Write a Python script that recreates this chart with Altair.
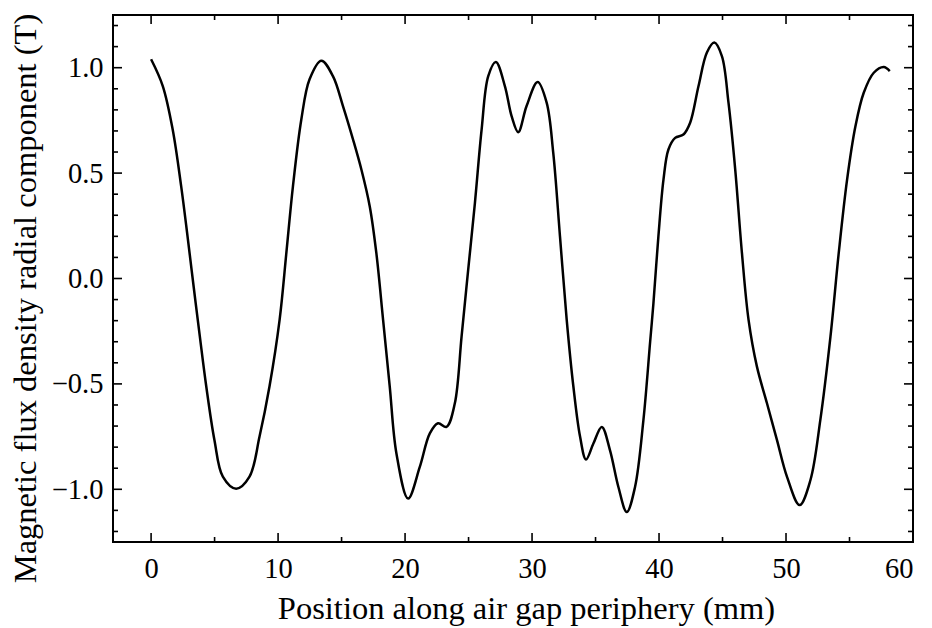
import altair as alt
import pandas as pd

# Curve
pos = [0.0, 0.92, 1.70, 2.37, 2.87, 3.35, 3.84, 4.34, 4.99, 5.65, 6.70, 7.75, 8.54, 9.33,
       10.12, 10.65, 11.17, 11.83, 12.48, 13.41, 14.32, 15.11, 15.90, 16.56, 17.22, 17.74,
       18.27, 18.79, 19.32, 20.24, 21.16, 21.95, 22.60, 23.26, 23.92, 24.45, 24.97, 25.50,
       26.03, 26.55, 27.15, 27.86, 28.39, 28.91, 29.57, 30.44, 31.15, 31.67, 32.20, 32.73,
       33.25, 33.78, 34.25, 34.83, 35.49, 36.14, 36.80, 37.46, 38.11, 38.77, 39.30, 39.56,
       39.95, 40.35, 40.74, 41.27, 41.92, 42.45, 43.11, 43.77, 44.35, 44.95, 45.47, 46.00,
       46.53, 47.05, 47.71, 48.50, 49.29, 50.08, 51.07, 51.92, 52.70, 53.50, 54.15, 54.81,
       55.47, 56.12, 56.91, 57.70, 58.17]
bval = [1.04, 0.913, 0.707, 0.437, 0.20, -0.038, -0.276, -0.51, -0.767, -0.94, -0.997, -0.94,
        -0.75, -0.51, -0.196, 0.12, 0.437, 0.754, 0.945, 1.033, 0.96, 0.818, 0.66, 0.517,
        0.342, 0.12, -0.196, -0.51, -0.83, -1.044, -0.894, -0.735, -0.687, -0.704, -0.592,
        -0.276, 0.041, 0.358, 0.707, 0.96, 1.027, 0.913, 0.77, 0.694, 0.818, 0.932, 0.834,
        0.596, 0.20, -0.196, -0.51, -0.75, -0.859, -0.783, -0.704, -0.815, -0.989, -1.108,
        -0.989, -0.672, -0.30, -0.117, 0.20, 0.469, 0.612, 0.667, 0.683, 0.739, 0.913, 1.072,
        1.119, 1.055, 0.834, 0.517, 0.12, -0.196, -0.418, -0.592, -0.767, -0.941, -1.075,
        -0.957, -0.672, -0.276, 0.12, 0.469, 0.723, 0.881, 0.976, 1.003, 0.984]

x_major = [0, 10, 20, 30, 40, 50, 60]
x_minor = [5, 15, 25, 35, 45, 55]
y_major = [-1.0, -0.5, 0.0, 0.5, 1.0]
y_minor = [-1.2, -1.1, -0.9, -0.8, -0.7, -0.6, -0.4, -0.3, -0.2, -0.1,
           0.1, 0.2, 0.3, 0.4, 0.6, 0.7, 0.8, 0.9, 1.1, 1.2]

W, H = 800, 527
FONT = "Liberation Serif"
MAJ, MIN = 9, 5

xs = alt.Scale(domain=[-3, 60], nice=False, zero=False)
ys = alt.Scale(domain=[-1.25, 1.25], nice=False, zero=False)

df = pd.DataFrame({"x": pos, "y": bval})

line = alt.Chart(df).mark_line(color="black", strokeWidth=2.5, interpolate="catmull-rom").encode(
    x=alt.X("x:Q", scale=xs, axis=alt.Axis(
        values=x_major, ticks=False, domain=False, grid=False, format="d",
        labelFont=FONT, labelFontSize=28.5, labelColor="black", labelPadding=12,
        title="Position along air gap periphery (mm)", titleFont=FONT, titleFontSize=32.5,
        titleFontWeight="normal", titleColor="black", titleX=413, titleY=76,
        titleBaseline="alphabetic", titleAlign="center")),
    y=alt.Y("y:Q", scale=ys, axis=alt.Axis(
        values=y_major, ticks=False, domain=False, grid=False, format=".1f",
        labelFont=FONT, labelFontSize=28.5, labelColor="black", labelPadding=10,
        title="Magnetic flux density radial component (T)", titleFont=FONT, titleFontSize=32.5,
        titleFontWeight="normal", titleColor="black", titleX=-78, titleY=283,
        titleAngle=-90, titleBaseline="alphabetic", titleAlign="center")),
)


def xticks(vals, y0, y1):
    return alt.Chart(pd.DataFrame({"x": vals})).mark_rule(color="black", strokeWidth=1.6).encode(
        x=alt.X("x:Q", scale=xs), y=alt.value(y0), y2=alt.value(y1))


def yticks(vals, x0, x1):
    return alt.Chart(pd.DataFrame({"y": vals})).mark_rule(color="black", strokeWidth=1.6).encode(
        y=alt.Y("y:Q", scale=ys), x=alt.value(x0), x2=alt.value(x1))


layers = [
    line,
    xticks(x_major, H, H - MAJ), xticks(x_minor, H, H - MIN),
    xticks(x_major, 0, MAJ), xticks(x_minor, 0, MIN),
    yticks(y_major, 0, MAJ), yticks(y_minor, 0, MIN),
    yticks(y_major, W, W - MAJ), yticks(y_minor, W, W - MIN),
]

chart = alt.layer(*layers).properties(
    width=W, height=H,
    autosize=alt.AutoSizeParams(type="none"),
    padding={"left": 105, "top": 7, "right": 10, "bottom": 85},
).configure_view(stroke="black", strokeWidth=2)

chart.save("out.html", embed_options={"renderer": "svg", "actions": False})
